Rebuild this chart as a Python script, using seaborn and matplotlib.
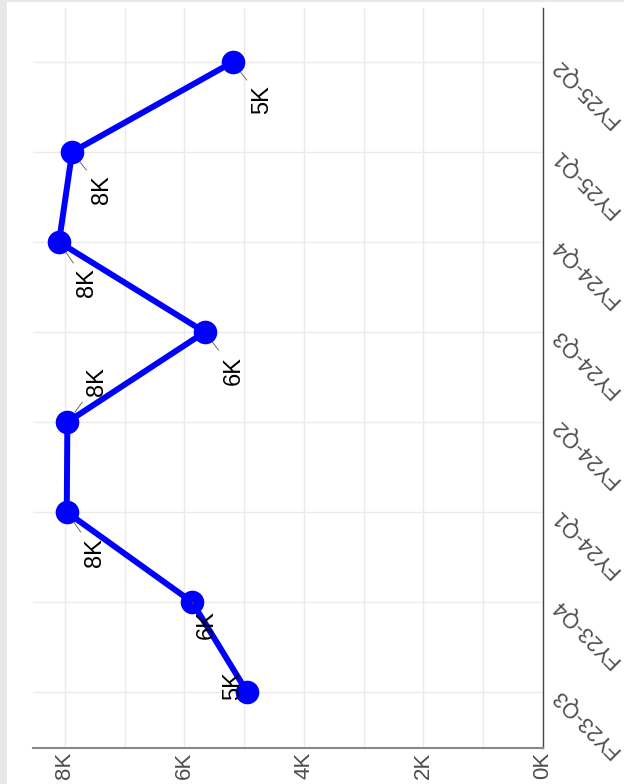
import seaborn as sns
import matplotlib.pyplot as plt
from matplotlib.patches import Rectangle
from matplotlib.ticker import MultipleLocator, FuncFormatter

quarters = ["FY23-Q3", "FY23-Q4", "FY24-Q1", "FY24-Q2",
            "FY24-Q3", "FY24-Q4", "FY25-Q1", "FY25-Q2"]
values = [4950, 5870, 7970, 7960, 5660, 8100, 7880, 5190]
labels = ["5K", "6K", "8K", "8K", "6K", "8K", "8K", "5K"]
# label offsets in pixels (dx, dy), ggrepel-like placement
offsets = [(-14, 7), (15, -22), (28, -40), (30, 40),
           (29, -38), (28, -41), (30, -38), (29, -38)]

sns.set_theme(style="white")
plt.rcParams['font.family'] = ['Liberation Sans', 'DejaVu Sans']

fig = plt.figure(figsize=(6.24, 7.84), dpi=100)
fig.patch.set_facecolor('#e8e8e8')
fig.patches.append(Rectangle((7 / 624, 0), 1, 782 / 784, transform=fig.transFigure,
                             facecolor='white', edgecolor='none', zorder=-1))
ax = fig.add_axes([33 / 624, 36 / 784, 510 / 624, 740 / 784])
ax.set_facecolor('white')

sns.lineplot(x=values, y=quarters, sort=False, orient='y', ax=ax,
             color='#0000ff', linewidth=4.3, marker='o', markersize=17,
             markeredgewidth=0, zorder=3)

for i, (v, lab, off) in enumerate(zip(values, labels, offsets)):
    ax.annotate(lab, xy=(v, i), xytext=off, textcoords='offset pixels',
                rotation=90, ha='center', va='center', fontsize=17,
                color='black', zorder=4,
                arrowprops=dict(arrowstyle='-', color='#555555', lw=0.6,
                                shrinkA=2, shrinkB=9))

ax.set_xlim(8535, 0)
ax.set_ylim(-0.62, 7.6)
ax.xaxis.set_major_locator(MultipleLocator(2000))
ax.xaxis.set_minor_locator(MultipleLocator(1000))
ax.xaxis.set_major_formatter(FuncFormatter(lambda v, p: f'{v / 1000:.0f}K'))
ax.grid(True, which='both', axis='x', color='#ebebeb', lw=1)
ax.grid(True, which='major', axis='y', color='#ebebeb', lw=1)
ax.set_axisbelow(True)

ax.yaxis.tick_right()
ax.tick_params(axis='x', which='both', length=0, pad=3, labelsize=16,
               labelcolor='#4d4d4d', labelrotation=90)
ax.tick_params(axis='y', length=0, pad=9, labelsize=15.5, labelcolor='#4d4d4d')
for t in ax.get_yticklabels():
    t.set_rotation(135)
    t.set_ha('right')
    t.set_va('center')
    t.set_rotation_mode('anchor')

for s in ['top', 'left']:
    ax.spines[s].set_visible(False)
ax.spines['bottom'].set_color('#888888')
ax.spines['bottom'].set_linewidth(1.5)
ax.spines['right'].set_color('#444444')
ax.spines['right'].set_linewidth(1)
ax.set_xlabel('')
ax.set_ylabel('')

plt.savefig("out.png", dpi=100)
